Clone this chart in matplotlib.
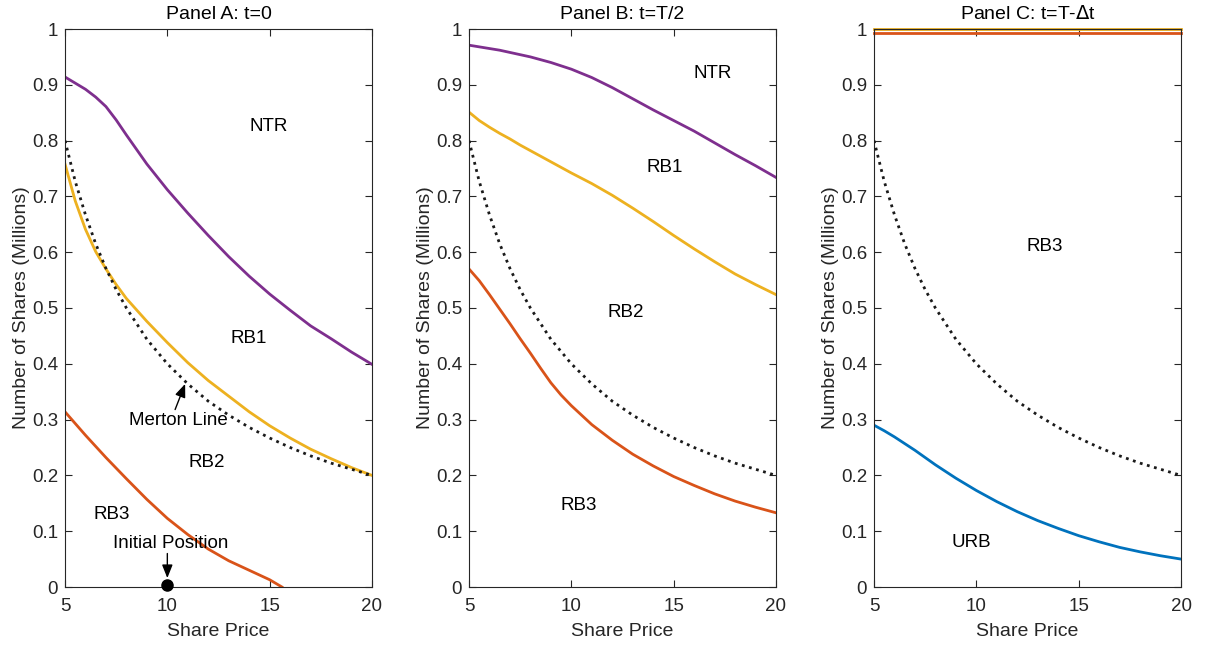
import numpy as np
import matplotlib
matplotlib.use("Agg")
import matplotlib.pyplot as plt

plt.rcParams['font.family'] = ['Liberation Sans', 'DejaVu Sans']

# -------- DATA --------
price = [5, 5.5, 6, 6.5, 7, 7.5, 8, 9, 10, 11, 12, 13, 14, 15, 16, 17, 18, 19, 20]

# Merton line (same in all panels)
merton = [0.800, 0.727, 0.667, 0.615, 0.571, 0.533, 0.500, 0.444, 0.400, 0.364,
          0.333, 0.308, 0.286, 0.267, 0.250, 0.235, 0.222, 0.211, 0.200]

# Panel A: t=0
a_ntr = [0.914, 0.903, 0.892, 0.878, 0.861, 0.837, 0.810, 0.758, 0.712, 0.670,
         0.630, 0.592, 0.557, 0.525, 0.496, 0.468, 0.445, 0.421, 0.399]
a_rb1 = [0.758, 0.692, 0.641, 0.601, 0.570, 0.542, 0.517, 0.476, 0.438, 0.402,
         0.370, 0.342, 0.314, 0.289, 0.267, 0.247, 0.230, 0.214, 0.200]
a_rb3_price = [5, 6, 7, 8, 9, 10, 11, 12, 13, 14, 15, 15.6]
a_rb3 = [0.314, 0.272, 0.232, 0.194, 0.157, 0.123, 0.094, 0.068,
         0.047, 0.030, 0.013, 0.000]

# Panel B: t=T/2
b_ntr = [0.971, 0.968, 0.965, 0.962, 0.958, 0.954, 0.950, 0.940, 0.928, 0.913,
         0.895, 0.875, 0.855, 0.836, 0.817, 0.796, 0.775, 0.755, 0.734]
b_rb1 = [0.851, 0.836, 0.824, 0.813, 0.803, 0.792, 0.782, 0.762, 0.742, 0.723,
         0.702, 0.679, 0.655, 0.630, 0.606, 0.583, 0.561, 0.542, 0.524]
b_rb2_price = [5, 5.5, 6, 6.5, 7, 7.5, 8, 8.5, 9, 9.5, 10, 11, 12, 13, 14, 15, 16, 17, 18, 19, 20]
b_rb2 = [0.570, 0.549, 0.524, 0.498, 0.472, 0.445, 0.419, 0.392, 0.366, 0.344, 0.325,
         0.291, 0.263, 0.238, 0.217, 0.198, 0.182, 0.167, 0.154, 0.143, 0.133]

# Panel C: t=T-dt
c_top1 = [1.000] * len(price)
c_top2 = [0.993] * len(price)
c_urb = [0.290, 0.280, 0.269, 0.257, 0.245, 0.232, 0.219, 0.195, 0.173, 0.153,
         0.135, 0.119, 0.105, 0.092, 0.081, 0.071, 0.063, 0.056, 0.050]

titles = ['Panel A: t=0', 'Panel B: t=T/2', 'Panel C: t=T-$\\Delta$t']

# MATLAB default colours
purple = '#7E2F8E'
yellow = '#EDB120'
red = '#D95319'
blue = '#0072BD'
txt = '#262626'

# -------- FIGURE --------
fig = plt.figure(figsize=(12.06, 6.48), dpi=100)
lefts = [65 / 1206, 469 / 1206, 874 / 1206]
axes = [fig.add_axes([l, 61 / 648, 307 / 1206, 558 / 648]) for l in lefts]

lw = 2.0
fs = 13.5
arrow = dict(arrowstyle='-|>,head_length=0.4,head_width=0.16', color='k', lw=1,
             mutation_scale=20, shrinkA=0, shrinkB=0)

for ax, title in zip(axes, titles):
    ax.plot(price, merton, ':', color='#1a1a1a', lw=lw, zorder=3)
    ax.set_xlim(5, 20)
    ax.set_ylim(0, 1)
    ax.set_xticks([5, 10, 15, 20])
    ax.set_yticks(np.arange(0, 1.01, 0.1))
    ax.set_yticklabels(['0', '0.1', '0.2', '0.3', '0.4', '0.5', '0.6', '0.7', '0.8', '0.9', '1'])
    ax.tick_params(direction='in', length=5, width=0.8, top=True, right=True,
                   labelsize=fs, colors=txt, pad=5)
    ax.tick_params(axis='x', pad=8)
    for s in ax.spines.values():
        s.set_color('#262626')
        s.set_linewidth(0.8)
    ax.set_title(title, fontsize=14, color='k', pad=7)
    ax.set_xlabel('Share Price', fontsize=14, color=txt, labelpad=6)
    ax.set_ylabel('Number of Shares (Millions)', fontsize=14, color=txt, labelpad=1)

# Panel A
ax = axes[0]
ax.plot(price, a_ntr, color=purple, lw=lw)
ax.plot(price, a_rb1, color=yellow, lw=lw)
ax.plot(a_rb3_price, a_rb3, color=red, lw=lw)
ax.plot([10], [0.004], 'o', color='k', ms=8, clip_on=False, zorder=5)
ax.text(14.95, 0.826, 'NTR', ha='center', va='center', fontsize=fs)
ax.text(13.97, 0.445, 'RB1', ha='center', va='center', fontsize=fs)
ax.text(11.93, 0.223, 'RB2', ha='center', va='center', fontsize=fs)
ax.text(7.28, 0.130, 'RB3', ha='center', va='center', fontsize=fs)
ax.text(10.54, 0.299, 'Merton Line', ha='center', va='center', fontsize=fs)
ax.annotate('', xy=(10.87, 0.364), xytext=(10.38, 0.318), arrowprops=arrow)
ax.text(10.14, 0.078, 'Initial Position', ha='center', va='center', fontsize=fs)
ax.annotate('', xy=(10, 0.016), xytext=(10, 0.060), arrowprops=arrow)

# Panel B
ax = axes[1]
ax.plot(price, b_ntr, color=purple, lw=lw)
ax.plot(price, b_rb1, color=yellow, lw=lw)
ax.plot(b_rb2_price, b_rb2, color=red, lw=lw)
ax.text(16.9, 0.920, 'NTR', ha='center', va='center', fontsize=fs)
ax.text(14.54, 0.751, 'RB1', ha='center', va='center', fontsize=fs)
ax.text(12.66, 0.492, 'RB2', ha='center', va='center', fontsize=fs)
ax.text(10.38, 0.146, 'RB3', ha='center', va='center', fontsize=fs)

# Panel C
ax = axes[2]
ax.plot(price, c_top1, color=yellow, lw=lw, clip_on=False)
ax.plot(price, c_top2, color=red, lw=lw, clip_on=False)
ax.plot(price, c_urb, color=blue, lw=lw)
ax.text(13.35, 0.610, 'RB3', ha='center', va='center', fontsize=fs)
ax.text(9.76, 0.080, 'URB', ha='center', va='center', fontsize=fs)

fig.savefig('out.png', dpi=100)
